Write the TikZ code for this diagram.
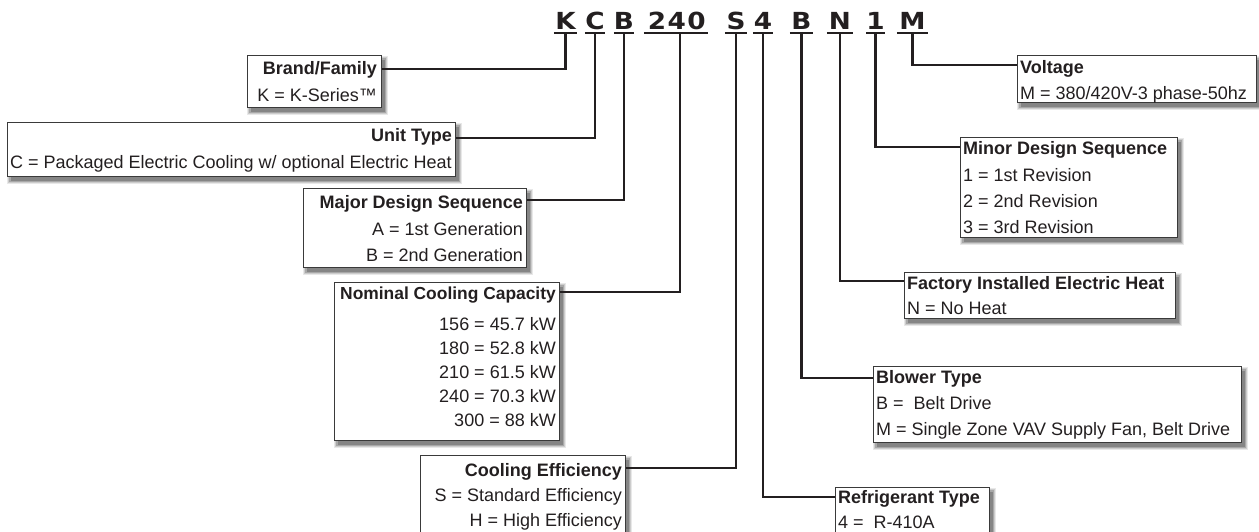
\documentclass[tikz,border=0pt]{standalone}
\usepackage{fontspec}
\setmainfont{Liberation Sans}
\newfontfamily\codefont{DejaVu Sans}[FakeStretch=1.12]
\usetikzlibrary{shadows}
\definecolor{ink}{HTML}{231F20}
\definecolor{frame}{HTML}{3A3A3A}
\tikzset{
  box/.style={draw=frame, line width=1.1pt, fill=white, inner sep=0pt, anchor=north west,
    general shadow={fill=black!9, draw=black!9, line width=7pt, shadow xshift=3pt, shadow yshift=-4pt},
    general shadow={fill=black!20, draw=black!20, line width=4.5pt, shadow xshift=3pt, shadow yshift=-4pt},
    general shadow={fill=black!34, draw=black!34, line width=2.2pt, shadow xshift=3pt, shadow yshift=-4pt},
    general shadow={fill=black!48, shadow xshift=3pt, shadow yshift=-4pt}},
  hdr/.style={font=\fontsize{18}{20}\selectfont\bfseries, text=ink, inner sep=0pt},
  val/.style={font=\fontsize{18}{20}\selectfont, text=ink, inner sep=0pt},
  code/.style={font=\codefont\fontsize{23.5}{24}\selectfont\bfseries, text=ink, inner sep=0pt, text depth=4pt, anchor=base},
  conn/.style={draw=ink, line width=2.2pt},
  uline/.style={draw=ink, line width=2.2pt},
}
\begin{document}
\begin{tikzpicture}[x=1pt,y=-1pt]
\useasboundingbox[fill=white] (0,0) rectangle (1259,531);

% ---- code letters ----
\node[code, minimum width=23pt] (cK) at (565.5,29) {K};
\node[code, minimum width=20pt] (cC) at (595,29) {C};
\node[code, minimum width=18pt] (cB) at (624,29) {B};
\node[code, minimum width=64pt] (cCap) at (676,29) {\addfontfeature{LetterSpace=6}240\kern-1.4pt};
\node[code, minimum width=22pt] (cS) at (736,29) {S};
\node[code, minimum width=20pt] (c4) at (763,29) {4};
\node[code, minimum width=23pt] (cBl) at (801.5,29) {B};
\node[code, minimum width=26pt] (cN) at (840,29) {N};
\node[code, minimum width=15pt] (c1) at (875.5,29) {1};
\node[code, minimum width=31pt] (cM) at (912.5,29) {M};
\foreach \n in {cK,cC,cB,cCap,cS,c4,cBl,cN,c1,cM}
  \draw[uline] (\n.south west) -- (\n.south east);

% ---- boxes ----
\node[box, minimum width=134pt, minimum height=52pt] (brand) at (247,55) {};
\node[hdr, anchor=base east] (brandH) at (377,74) {Brand/Family};
\node[val, anchor=base east] (brandV) at (377,101) {K = K-Series™};

\node[box, minimum width=448pt, minimum height=54pt] (unit) at (7,122) {};
\node[hdr, anchor=base east] (unitH) at (452,141) {Unit Type};
\node[val, anchor=base east] (unitV) at (452,168) {C = Packaged Electric Cooling w/ optional Electric Heat};

\node[box, minimum width=223pt, minimum height=79pt] (major) at (303,188) {};
\node[hdr, anchor=base east] (majorH) at (523,208) {Major Design Sequence};
\node[val, anchor=base east] (majorA) at (523,235) {A = 1st Generation};
\node[val, anchor=base east] (majorB) at (523,261) {B = 2nd Generation};

\node[box, minimum width=225pt, minimum height=158pt] (nom) at (334,282) {};
\node[hdr, anchor=base east, font=\fontsize{17.4}{20}\selectfont\bfseries] (nomH) at (556,299) {Nominal Cooling Capacity};
\node[val, anchor=base east] (nom1) at (556,330) {156 = 45.7 kW};
\node[val, anchor=base east] (nom2) at (556,354) {180 = 52.8 kW};
\node[val, anchor=base east] (nom3) at (556,378) {210 = 61.5 kW};
\node[val, anchor=base east] (nom4) at (556,402) {240 = 70.3 kW};
\node[val, anchor=base east] (nom5) at (556,426) {300 = 88 kW};

\node[box, minimum width=205pt, minimum height=90pt] (eff) at (420,455) {};
\node[hdr, anchor=base east] (effH) at (622,476) {Cooling Efficiency};
\node[val, anchor=base east] (effS) at (622,501) {S = Standard Efficiency};
\node[val, anchor=base east] (effH2) at (622,526) {H = High Efficiency};

\node[box, minimum width=154pt, minimum height=60pt] (ref) at (835,487) {};
\node[hdr, anchor=base west] (refH) at (838,503) {Refrigerant Type};
\node[val, anchor=base west] (refV) at (838,528) {4 =\ \ R-410A};

\node[box, minimum width=368pt, minimum height=76pt] (blow) at (873,366) {};
\node[hdr, anchor=base west] (blowH) at (876,383) {Blower Type};
\node[val, anchor=base west] (blowB) at (876,409) {B =\ \ Belt Drive};
\node[val, anchor=base west] (blowM) at (876,435) {M = Single Zone VAV Supply Fan, Belt Drive};

\node[box, minimum width=271pt, minimum height=46pt] (heat) at (904,272) {};
\node[hdr, anchor=base west] (heatH) at (907,289) {Factory Installed Electric Heat};
\node[val, anchor=base west] (heatV) at (907,314) {N = No Heat};

\node[box, minimum width=217pt, minimum height=100pt] (minor) at (960,137) {};
\node[hdr, anchor=base west] (minorH) at (963,154) {Minor Design Sequence};
\node[val, anchor=base west] (minor1) at (963,181) {1 = 1st Revision};
\node[val, anchor=base west] (minor2) at (963,207) {2 = 2nd Revision};
\node[val, anchor=base west] (minor3) at (963,233) {3 = 3rd Revision};

\node[box, minimum width=239pt, minimum height=47pt] (volt) at (1017,55) {};
\node[hdr, anchor=base west] (voltH) at (1020,73) {Voltage};
\node[val, anchor=base west] (voltV) at (1020,99) {M = 380/420V-3 phase-50hz};

% ---- connectors ----
\draw[conn] (cK.south) |- ([yshift=-14pt]brand.north east);
\draw[conn] (cC.south) |- ([yshift=-16pt]unit.north east);
\draw[conn] (cB.south) |- ([yshift=-12pt]major.north east);
\draw[conn] ([xshift=4pt]cCap.south) |- ([yshift=-10pt]nom.north east);
\draw[conn] (cS.south) |- ([yshift=-13pt]eff.north east);
\draw[conn] (c4.south) |- ([yshift=-10pt]ref.north west);
\draw[conn] (cBl.south) |- ([yshift=-12pt]blow.north west);
\draw[conn] (cN.south) |- ([yshift=-9pt]heat.north west);
\draw[conn] (c1.south) |- ([yshift=-10pt]minor.north west);
\draw[conn] (cM.south) |- ([yshift=-10pt]volt.north west);
\end{tikzpicture}
\end{document}
